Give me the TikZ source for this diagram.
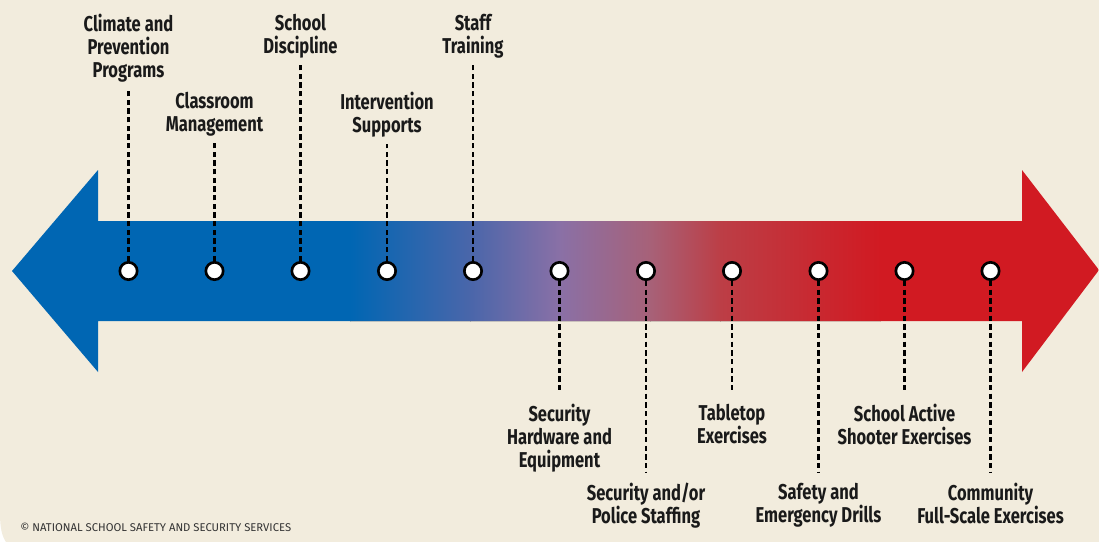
\documentclass[tikz,border=0pt]{standalone}
\usepackage{fontspec}
\newfontfamily\labelfont[FakeStretch=0.77]{Fira Sans}
\newfontfamily\creditfont{Fira Sans}

\definecolor{paper}{RGB}{242,236,221}
\definecolor{leftblue}{RGB}{0,102,179}
\definecolor{steelblue}{RGB}{74,102,170}
\definecolor{midpurple}{RGB}{138,112,166}
\definecolor{dustyrose}{RGB}{167,97,120}
\definecolor{brickred}{RGB}{188,62,70}
\definecolor{rightred}{RGB}{209,26,34}
\definecolor{inktext}{RGB}{26,26,26}

\tikzset{
	dot/.style={circle, draw=black, fill=white, line width=2pt, minimum size=13pt, inner sep=0pt},
	stem/.style={draw=black, line width=2.2pt, dash pattern=on 4pt off 2.5pt},
	stagetext/.style={anchor=north, align=center, inner sep=0pt, text=inktext,
		font=\labelfont\bfseries\fontsize{16.1}{17.25}\selectfont},
}

\begin{document}
\begin{tikzpicture}[x=0.75pt,y=0.75pt,yscale=-1,xscale=1]
	\useasboundingbox (0,0) rectangle (1099,542);
	
	%Shape: page with rounded lower left corner
	\fill [white] (0,0) rectangle (1099,542);
	\fill [paper] (0,0) -- (1099,0) -- (1099,542) -- (6,542) .. controls (2,536) and (0,528) .. (0,513) -- cycle ;
	
	%Shape: double arrow, blue to red
	\begin{scope}
		\clip (12,271) -- (98,170) -- (98,221) -- (1022,221) -- (1022,170) -- (1099,270) -- (1022,372) -- (1022,321) -- (98,321) -- (98,372) -- cycle ;
		\fill [leftblue] (0,160) rectangle (350.5,380);
		\fill [left color=leftblue, right color=steelblue] (350,160) rectangle (470.5,380);
		\fill [left color=steelblue, right color=midpurple] (470,160) rectangle (560.5,380);
		\fill [left color=midpurple, right color=dustyrose] (560,160) rectangle (650.5,380);
		\fill [left color=dustyrose, right color=brickred] (650,160) rectangle (720.5,380);
		\fill [left color=brickred, right color=rightred] (720,160) rectangle (880.5,380);
		\fill [rightred] (880,160) rectangle (1099,380);
	\end{scope}
	
	%Shape: stage markers
	\node [dot] (d1) at (128.5,271) {};
	\node [dot] (d2) at (214.5,271) {};
	\node [dot] (d3) at (300.5,271) {};
	\node [dot] (d4) at (387,271) {};
	\node [dot] (d5) at (473,271) {};
	\node [dot] (d6) at (559.5,271) {};
	\node [dot] (d7) at (646,271) {};
	\node [dot] (d8) at (732,271) {};
	\node [dot] (d9) at (818.5,271) {};
	\node [dot] (d10) at (904.5,271) {};
	\node [dot] (d11) at (990.5,271) {};
	
	% Text Node
	\node [stagetext] (climate) at (128.5,14) {Climate and\\Prevention\\Programs};
	% Text Node
	\node [stagetext] (classroom) at (214.5,92) {Classroom\\Management};
	% Text Node
	\node [stagetext] (discipline) at (300.5,14) {School\\Discipline};
	% Text Node
	\node [stagetext] (intervention) at (387,92) {Intervention\\Supports};
	% Text Node
	\node [stagetext] (training) at (473,14) {Staff\\Training};
	% Text Node
	\node [stagetext] (hardware) at (559.5,404) {Security\\Hardware and\\Equipment};
	% Text Node
	\node [stagetext] (staffing) at (646,483) {Security and/or\\Police Staffing};
	% Text Node
	\node [stagetext] (tabletop) at (732,404) {Tabletop\\Exercises};
	% Text Node
	\node [stagetext] (drills) at (818.5,483) {Safety and\\Emergency Drills};
	% Text Node
	\node [stagetext] (shooter) at (904.5,404) {School Active\\Shooter Exercises};
	% Text Node
	\node [stagetext] (community) at (990.5,483) {Community\\Full-Scale Exercises};
	
	%Straight Lines: dashed stems up to the labels
	\draw [stem, shorten >=5pt] (d1.north) -- (climate.south);
	\draw [stem, shorten >=5pt] (d2.north) -- (classroom.south);
	\draw [stem, shorten >=5pt] (d3.north) -- (discipline.south);
	\draw [stem, shorten >=5pt] (d4.north) -- (intervention.south);
	\draw [stem, shorten >=5pt] (d5.north) -- (training.south);
	%Straight Lines: dashed stems down to the labels
	\draw [stem, shorten >=8pt] (d6.south) -- (hardware.north);
	\draw [stem, shorten >=8pt] (d7.south) -- (staffing.north);
	\draw [stem, shorten >=8pt] (d8.south) -- (tabletop.north);
	\draw [stem, shorten >=8pt] (d9.south) -- (drills.north);
	\draw [stem, shorten >=8pt] (d10.south) -- (shooter.north);
	\draw [stem, shorten >=8pt] (d11.south) -- (community.north);
	
	% Text Node
	\node [anchor=base west, inner sep=0pt, text={rgb,255:red,51;green,51;blue,51}, font=\creditfont\fontsize{8.45}{10}\selectfont] (credit) at (20,531) {\textcopyright{} NATIONAL SCHOOL SAFETY AND SECURITY SERVICES};
\end{tikzpicture}
\end{document}
